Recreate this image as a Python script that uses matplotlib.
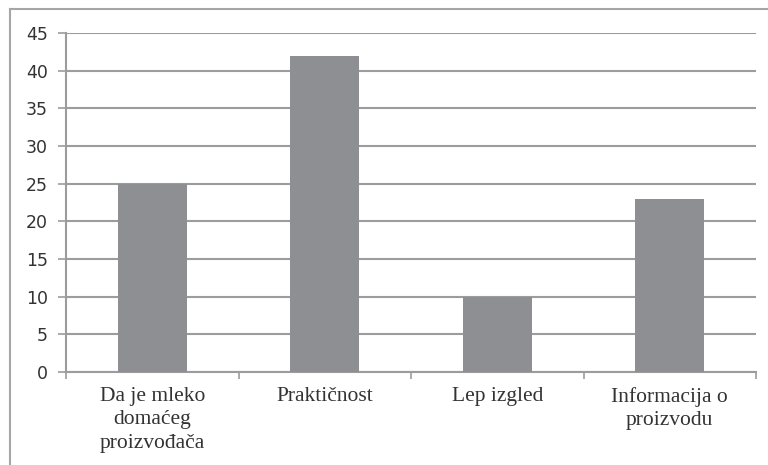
import matplotlib
matplotlib.use('Agg')
import matplotlib.pyplot as plt
from matplotlib.lines import Line2D

categories = ['Da je mleko\ndomaćeg\nproizvođača', 'Praktičnost', 'Lep izgled', 'Informacija o\nproizvodu']
values = [25, 42, 10, 23]
y_ticks = [0, 5, 10, 15, 20, 25, 30, 35, 40, 45]

bar_color = '#8e8f93'
grid_color = '#9c9c9c'
text_color = '#333333'

fig = plt.figure(figsize=(7.68, 4.65), dpi=100)
ax = fig.add_axes([66 / 768, 1 - 372 / 465, 690 / 768, 339 / 465])

x = list(range(len(categories)))
ax.bar(x, values, width=0.4, color=bar_color, zorder=3)

ax.set_xlim(-0.5, len(categories) - 0.5)
ax.set_ylim(0, 45)
ax.set_yticks(y_ticks)
ax.set_yticklabels([str(v) for v in y_ticks], fontsize=12.5, color=text_color,
                   family='DejaVu Sans')
ax.yaxis.grid(True, color=grid_color, linewidth=1.5, zorder=0)
ax.tick_params(axis='y', direction='out', length=6, width=1.2, color=grid_color, pad=7)

ax.set_xticks(x)
ax.set_xticklabels(categories, fontsize=15.5, color=text_color,
                   family='Liberation Serif', linespacing=1.3)
ax.tick_params(axis='x', which='major', length=0, pad=11)
ax.set_xticks([i - 0.5 for i in range(len(categories) + 1)], minor=True)
ax.tick_params(axis='x', which='minor', direction='out', length=5, width=1.2, color=grid_color)

for side in ['top', 'right']:
    ax.spines[side].set_visible(False)
for side in ['left', 'bottom']:
    ax.spines[side].set_color(grid_color)
    ax.spines[side].set_linewidth(1.5)

# outer chart frame (left and top only visible)
fig.add_artist(Line2D([10 / 768, 10 / 768], [0, 1 - 9 / 465], transform=fig.transFigure,
                      color='#a6a6a6', linewidth=1.5))
fig.add_artist(Line2D([10 / 768, 1], [1 - 9 / 465, 1 - 9 / 465], transform=fig.transFigure,
                      color='#a6a6a6', linewidth=1.5))

fig.savefig('out.png', dpi=100)
